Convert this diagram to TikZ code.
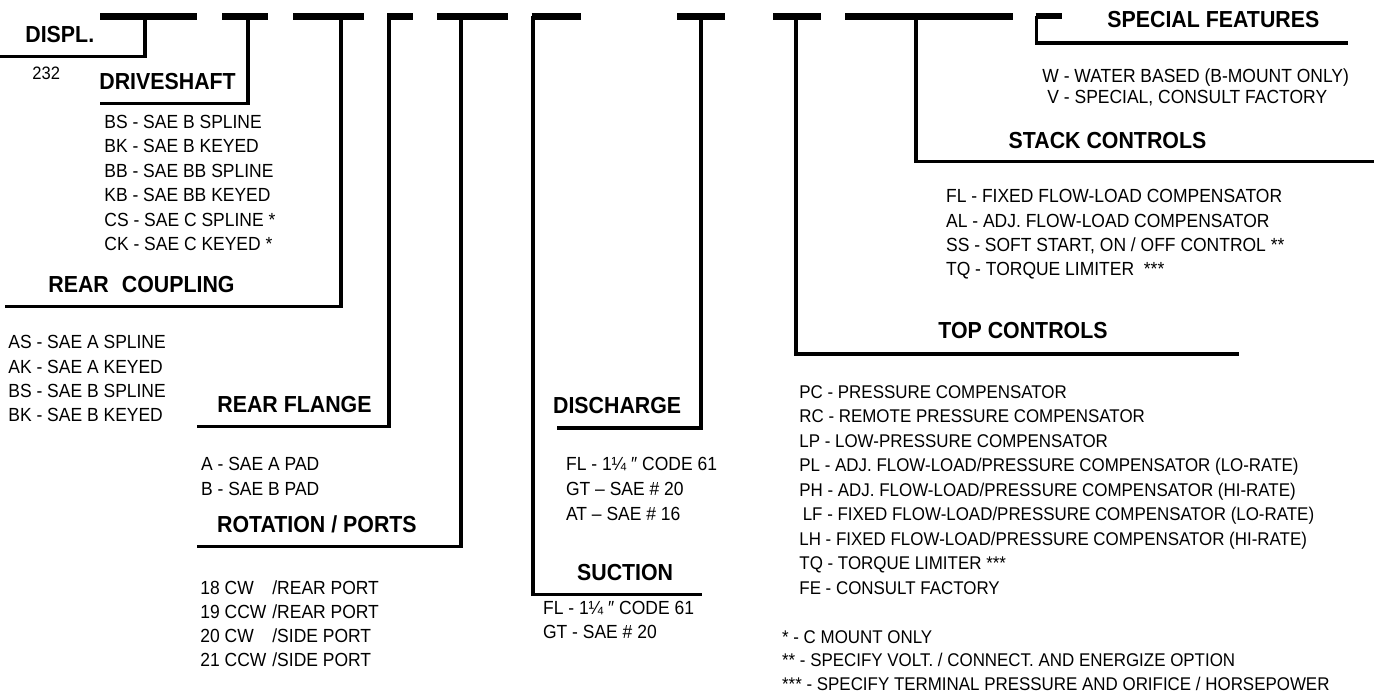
\documentclass[tikz,border=0pt]{standalone}
\usepackage{fontspec}
\setmainfont[FakeStretch=0.92]{Liberation Sans}
\usepackage{tikz}
\usetikzlibrary{calc}
\newcommand{\hdfont}{\fontsize{11.6}{13}\selectfont\bfseries}
\newcommand{\optfont}{\fontsize{9.5}{11}\selectfont}
\tikzset{
  heading/.style={font=\hdfont,anchor=base west,inner sep=0pt},
  option/.style={font=\optfont,anchor=base west,inner sep=0pt},
  smalloption/.style={option,font=\fontsize{9.2}{11}\selectfont},
  codebar/.style={line width=3.25pt},
  leader/.style={line width=1.75pt,line join=miter}
}

\begin{document}
\begin{tikzpicture}[x=0.5pt,y=-0.5pt]
\useasboundingbox (0,0) rectangle (1376,694);

% Model code bar: one dash for each field of the code.
\foreach \a/\b in {100/197,222/268,293/364,387/413,437/508,
                   531.5/581,677/725,773/821,845/1013}
  \draw[codebar] (\a,16.5) -- (\b,16.5);
\draw[line width=2.6pt] (1035.5,16) -- (1062,16);

% Leaders: tap on the bar, down, then along under the heading.
\foreach \n/\x/\y/\e in {displ/145/56.5/0,drive/248/103.5/100,
    coupling/341/306.5/5,flange/389/426.5/197,rotation/461/546.5/197,
    suction/533/594.5/702,discharge/701/428/557,top/796/354/1239,
    stack/916/161.7/1374,special/1036.5/43/1348}
{
  \coordinate (tap\n) at (\x,16.5);
  \coordinate (end\n) at (\e,\y);
  \draw[leader] (tap\n) |- (end\n);
}

% Headings
\node[heading] (displ) at (25,43) {DISPL.};
\node[option,font=\fontsize{9}{10}\selectfont] (displVal) at (32,80) {232};
\node[heading] (drive) at (99,90) {DRIVESHAFT};
\node[heading] (coupling) at (48,292.7) {REAR\hspace{6.5pt}COUPLING};
\node[heading] (flange) at (217,412.7) {REAR FLANGE};
\node[heading] (rotation) at (216.7,532.7) {ROTATION / PORTS};
\node[heading] (discharge) at (552.7,413.3) {DISCHARGE};
\node[heading] (suction) at (576.7,581) {SUCTION};
\node[heading] (top) at (938,338.5) {TOP CONTROLS};
\node[heading] (stack) at (1008.3,148.3) {STACK CONTROLS};
\node[heading] (special) at (1107,27.5) {SPECIAL FEATURES};

% Option lists
\foreach \t [count=\i from 0] in {BS - SAE B SPLINE,BK - SAE B KEYED,
    BB - SAE BB SPLINE,KB - SAE BB KEYED,CS - SAE C SPLINE *,
    CK - SAE C KEYED *}
  \node[option] (drive\i) at (104,128.5+24.5*\i) {\t};

\foreach \t [count=\i from 0] in {AS - SAE A SPLINE,AK - SAE A KEYED,
    BS - SAE B SPLINE,BK - SAE B KEYED}
  \node[option] (coupling\i) at (8,349+24.3*\i) {\t};

\foreach \t [count=\i from 0] in {A - SAE A PAD,B - SAE B PAD}
  \node[option] (flange\i) at (200.7,471+25*\i) {\t};

\foreach \a/\b [count=\i from 0] in {18 CW/REAR PORT,19 CCW/REAR PORT,
    20 CW/SIDE PORT,21 CCW/SIDE PORT}
  \node[option] (rotation\i) at (200,594.3+24.2*\i)
    {\makebox[36pt][l]{\a}/\b};

\foreach \t [count=\i from 0] in {FL - 1¼ ″ CODE 61,GT – SAE \# 20,
    AT – SAE \# 16}
  \node[option] (discharge\i) at (565.7,471+25*\i) {\t};

\foreach \t [count=\i from 0] in {FL - 1¼ ″ CODE 61,GT - SAE \# 20}
  \node[option] (suction\i) at (542.7,614.5+24.5*\i) {\t};

\foreach \t [count=\i from 0] in {{PC - PRESSURE COMPENSATOR},
    {RC - REMOTE PRESSURE COMPENSATOR},
    {LP - LOW-PRESSURE COMPENSATOR},
    {PL - ADJ. FLOW-LOAD/PRESSURE COMPENSATOR (LO-RATE)},
    {PH - ADJ. FLOW-LOAD/PRESSURE COMPENSATOR (HI-RATE)},
    {\hspace{1.7pt}LF - FIXED FLOW-LOAD/PRESSURE COMPENSATOR (LO-RATE)},
    {LH - FIXED FLOW-LOAD/PRESSURE COMPENSATOR (HI-RATE)},
    {TQ - TORQUE LIMITER ***},
    {FE - CONSULT FACTORY}}
  \node[smalloption] (top\i) at (799,398.3+24.5*\i) {\t};

\foreach \t [count=\i from 0] in {{FL - FIXED FLOW-LOAD COMPENSATOR},
    {AL - ADJ. FLOW-LOAD COMPENSATOR},
    {SS - SOFT START, ON / OFF CONTROL **},
    {TQ - TORQUE LIMITER\ \ ***}}
  \node[option] (stack\i) at (945.7,202.7+24.4*\i) {\t};

\node[option] (special0) at (1042,83) {W - WATER BASED (B-MOUNT ONLY)};
\node[option] (special1) at (1047,103.5) {V - SPECIAL, CONSULT FACTORY};

% Footnotes
\foreach \t [count=\i from 0] in {{* - C MOUNT ONLY},
    {** - SPECIFY VOLT. / CONNECT. AND ENERGIZE OPTION},
    {*** - SPECIFY TERMINAL PRESSURE AND ORIFICE / HORSEPOWER}}
  \node[smalloption] (note\i) at (781.7,643.3+23.7*\i) {\t};
\end{tikzpicture}
\end{document}
